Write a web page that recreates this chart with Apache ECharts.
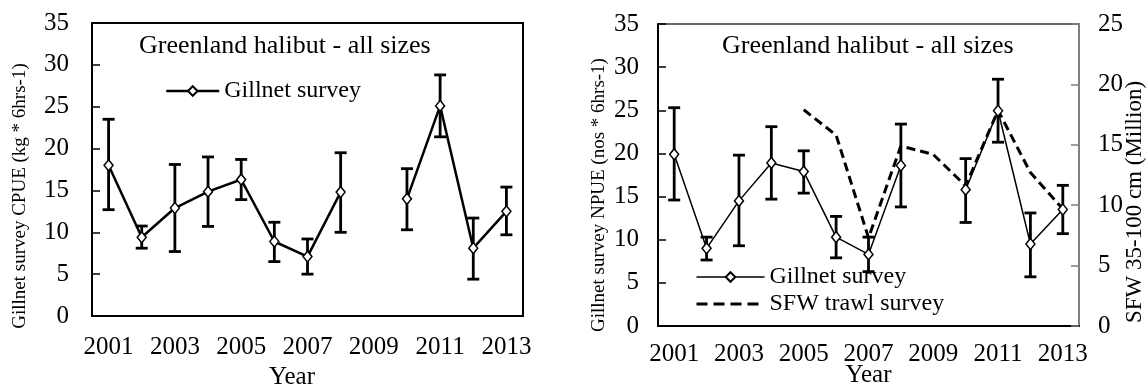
<!DOCTYPE html>
<html>
<head>
<meta charset="utf-8">
<script src="https://cdn.jsdelivr.net/npm/echarts@6/dist/echarts.min.js"></script>
<style>
    html, body { margin: 0; padding: 0; background: #fff; }
    #chart { width: 1148px; height: 386px; }
</style>
</head>
<body>
<div id="chart"></div>
<script>
/* 数据 */
var years = ['2001', '2002', '2003', '2004', '2005', '2006', '2007', '2008', '2009', '2010', '2011', '2012', '2013'];

// 左图 CPUE
var cpue     = [18.0, 9.4, 12.9, 14.85, 16.3, 8.9, 7.1, 14.8, null, 14.0, 25.1, 8.1, 12.5];
var cpueHigh = [23.5, 10.75, 18.1, 19.0, 18.7, 11.2, 9.2, 19.5, null, 17.6, 28.8, 11.7, 15.4];
var cpueLow  = [12.7, 8.1, 7.7, 10.7, 13.9, 6.5, 5.0, 10.0, null, 10.3, 21.4, 4.4, 9.7];

// 右图 NPUE + SFW
var npue     = [19.9, 9.0, 14.5, 18.9, 17.9, 10.3, 8.3, 18.6, null, 15.8, 24.95, 9.5, 13.5];
var npueHigh = [25.3, 10.3, 19.8, 23.1, 20.3, 12.7, 10.3, 23.4, null, 19.4, 28.6, 13.1, 16.3];
var npueLow  = [14.6, 7.65, 9.3, 14.7, 15.4, 7.9, 6.3, 13.8, null, 12.0, 21.3, 5.7, 10.7];
var sfw      = [null, null, null, null, 17.9, 15.8, 7.3, 14.9, 14.2, 11.6, 17.85, 12.7, 9.7];

var FONT = '"Liberation Serif", "Times New Roman", serif';

var ChartOper = function () {

    // [index, low, high]
    var errorBarData = function (low, high) {
        var out = [];
        for (var i = 0; i < low.length; i++) {
            if (low[i] != null && high[i] != null) {
                out.push([i, low[i], high[i]]);
            }
        }
        return out;
    }

    var renderErrorBar = function (params, api) {
        var lo = api.coord([api.value(0), api.value(1)]);
        var hi = api.coord([api.value(0), api.value(2)]);
        var half = 6;
        var style = { stroke: '#000', lineWidth: 2.8 };
        return {
            type: 'group',
            children: [
                { type: 'line', shape: { x1: lo[0], y1: lo[1], x2: hi[0], y2: hi[1] }, style: style },
                { type: 'line', shape: { x1: hi[0] - half, y1: hi[1], x2: hi[0] + half, y2: hi[1] }, style: style },
                { type: 'line', shape: { x1: lo[0] - half, y1: lo[1], x2: lo[0] + half, y2: lo[1] }, style: style }
            ]
        };
    }

    var xAxisBase = function (gridIndex, margin, nameGap, namePad) {
        return {
            type: 'category',
            gridIndex: gridIndex,
            data: years,
            boundaryGap: true,
            axisLine: { lineStyle: { color: '#000', width: 2 } },
            axisTick: { inside: true, length: 8, interval: 0, lineStyle: { color: '#000', width: 1.5 } },
            axisLabel: { interval: 1, margin: margin, color: '#000', fontFamily: FONT, fontSize: 25 },
            name: 'Year',
            nameLocation: 'middle',
            nameGap: nameGap,
            nameMoveOverlap: false,
            nameTextStyle: { color: '#000', fontFamily: FONT, fontSize: 25, padding: namePad }
        };
    }

    var yAxisBase = function (gridIndex, max, margin) {
        return {
            type: 'value',
            gridIndex: gridIndex,
            min: 0,
            max: max,
            interval: 5,
            splitLine: { show: false },
            axisLine: { show: true, lineStyle: { color: '#000', width: 2 } },
            axisTick: { show: true, inside: true, length: 8, lineStyle: { color: '#000', width: 1.5 } },
            axisLabel: { margin: margin, color: '#000', fontFamily: FONT, fontSize: 25 }
        };
    }

    var rotatedText = function (text, x, y, size) {
        return {
            type: 'text',
            x: x,
            y: y,
            rotation: Math.PI / 2,
            style: {
                text: text,
                fill: '#000',
                font: size + 'px ' + FONT,
                align: 'center',
                verticalAlign: 'middle'
            }
        };
    }

    var getOption = function () {
        var secAxis = yAxisBase(1, 25, 19);
        secAxis.position = 'right';
        secAxis.axisLine.lineStyle = { color: '#808080', width: 2 };
        secAxis.axisTick.lineStyle = { color: '#808080', width: 1.5 };

        return {
            animation: false,
            backgroundColor: '#fff',
            title: [
                { text: 'Greenland halibut - all sizes', left: 139, top: 33,
                  textStyle: { color: '#000', fontFamily: FONT, fontSize: 26, fontWeight: 'normal' }, padding: 0 },
                { text: 'Greenland halibut - all sizes', left: 722, top: 33,
                  textStyle: { color: '#000', fontFamily: FONT, fontSize: 26, fontWeight: 'normal' }, padding: 0 }
            ],
            legend: [
                {
                    left: 165, top: 79, padding: 0,
                    itemWidth: 53, itemHeight: 12, itemGap: 4,
                    textStyle: { color: '#000', fontFamily: FONT, fontSize: 24 },
                    data: [{ name: 'Gillnet survey', lineStyle: { width: 2.5, color: '#000' } }]
                },
                {
                    orient: 'vertical', left: 695, top: 265, padding: 0,
                    itemWidth: 68, itemHeight: 12, itemGap: 3,
                    textStyle: { color: '#000', fontFamily: FONT, fontSize: 24 },
                    data: [
                        { name: 'Gillnet survey', lineStyle: { width: 1.5, color: '#000' } },
                        { name: 'SFW trawl survey', itemStyle: { opacity: 0 },
                          lineStyle: { width: 3, color: '#000', type: [11, 6] } }
                    ]
                }
            ],
            grid: [
                { left: 92, top: 23, width: 431, height: 293, show: true, borderColor: '#000', borderWidth: 2,
                  outerBoundsMode: 'none' },
                { left: 658, top: 24, width: 421, height: 302, show: true, borderColor: '#333', borderWidth: 1.5,
                  outerBoundsMode: 'none' }
            ],
            xAxis: [
                xAxisBase(0, 19, 49, [0, 31, 0, 0]),
                xAxisBase(1, 16, 37, 0)
            ],
            yAxis: [
                yAxisBase(0, 35, 23),
                yAxisBase(1, 35, 19),
                secAxis
            ],
            graphic: [
                rotatedText('Gillnet survey CPUE (kg * 6hrs-1)', 20, 196, 19),
                rotatedText('Gillnet survey NPUE (nos * 6hrs-1)', 599, 195, 19),
                rotatedText('SFW 35-100 cm (Million)', 1135, 202, 23)
            ],
            series: [
                {
                    type: 'custom', name: 'cpue-err', xAxisIndex: 0, yAxisIndex: 0, z: 2,
                    renderItem: renderErrorBar, encode: { x: 0, y: [1, 2] },
                    data: errorBarData(cpueLow, cpueHigh)
                },
                {
                    type: 'line', name: 'Gillnet survey', xAxisIndex: 0, yAxisIndex: 0, z: 3,
                    data: cpue,
                    symbol: 'diamond', symbolSize: [9, 11],
                    lineStyle: { color: '#000', width: 2.5 },
                    itemStyle: { color: '#fff', borderColor: '#000', borderWidth: 1.5 }
                },
                {
                    type: 'custom', name: 'npue-err', xAxisIndex: 1, yAxisIndex: 1, z: 2,
                    renderItem: renderErrorBar, encode: { x: 0, y: [1, 2] },
                    data: errorBarData(npueLow, npueHigh)
                },
                {
                    type: 'line', name: 'SFW trawl survey', xAxisIndex: 1, yAxisIndex: 2, z: 2,
                    data: sfw,
                    symbol: 'none',
                    lineStyle: { color: '#000', width: 3, type: [9, 5] },
                    itemStyle: { color: '#000' }
                },
                {
                    type: 'line', name: 'Gillnet survey', xAxisIndex: 1, yAxisIndex: 1, z: 3,
                    data: npue,
                    symbol: 'diamond', symbolSize: [9, 11],
                    lineStyle: { color: '#000', width: 1.5 },
                    itemStyle: { color: '#fff', borderColor: '#000', borderWidth: 1.5 }
                }
            ]
        };
    }

    var init = function () {
        var myChart = echarts.init(document.getElementById('chart'));
        myChart.setOption(getOption());
    }

    return {
        init: function () {
            init();
        }
    }
}();

ChartOper.init();
</script>
</body>
</html>
